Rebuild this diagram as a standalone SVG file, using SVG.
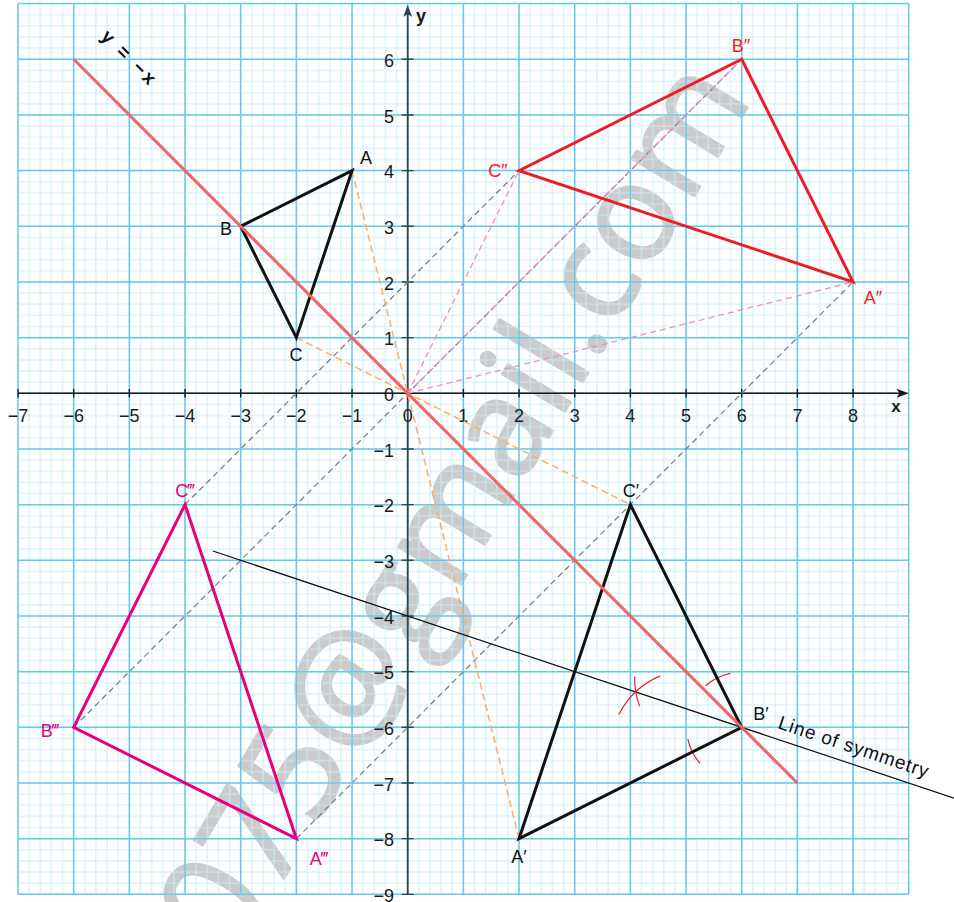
<svg xmlns="http://www.w3.org/2000/svg" width="954" height="902" viewBox="0 0 954 902">
<defs>
<pattern id="minor" x="12.443" y="-1.957" width="11.134" height="11.134" patternUnits="userSpaceOnUse">
<path d="M5.567 0V11.134M0 5.567H11.134" stroke="#c9ecf9" stroke-width="1" fill="none"/>
</pattern>
</defs>
<style>
text{font-family:"Liberation Sans","DejaVu Sans",sans-serif;}
.num{font-size:18px;fill:#1a1a1a}
.xl{text-anchor:middle}
.yl{text-anchor:end}
.lbl{font-size:18px;text-anchor:middle}
.major{stroke:#66c9ee;stroke-width:1.5;fill:none}
.tri{fill:none;stroke-width:3;stroke-linejoin:miter}
.gd{stroke:#808080;stroke-width:1.3;stroke-dasharray:6 4;fill:none}
.od{stroke:#f9b26c;stroke-width:1.6;stroke-dasharray:7 4;fill:none}
.pd{stroke:#f08cc4;stroke-width:1.3;stroke-dasharray:6 4;fill:none}
.arc{stroke:#e8242a;stroke-width:1.2;fill:none}
</style>
<rect x="0" y="0" width="954" height="902" fill="#ffffff"/>
<text id="watermark" transform="translate(234,962) rotate(-59)" font-size="136" fill="#cbcbcb" stroke="#cbcbcb" stroke-width="2.5" stroke-linejoin="round" style="font-family:'Open Sans','Noto Sans',sans-serif;font-weight:400">075@gmail.com</text>
<g id="grid">
<rect x="18.01" y="3.61" width="890.72" height="890.72" fill="url(#minor)"/>
<path class="major" d="M18.01 3.61V894.33M73.68 3.61V894.33M129.35 3.61V894.33M185.02 3.61V894.33M240.69 3.61V894.33M296.36 3.61V894.33M352.03 3.61V894.33M407.7 3.61V894.33M463.37 3.61V894.33M519.04 3.61V894.33M574.71 3.61V894.33M630.38 3.61V894.33M686.05 3.61V894.33M741.72 3.61V894.33M797.39 3.61V894.33M853.06 3.61V894.33M908.73 3.61V894.33M18.01 3.61H908.73M18.01 59.28H908.73M18.01 114.95H908.73M18.01 170.62H908.73M18.01 226.29H908.73M18.01 281.96H908.73M18.01 337.63H908.73M18.01 393.3H908.73M18.01 448.97H908.73M18.01 504.64H908.73M18.01 560.31H908.73M18.01 615.98H908.73M18.01 671.65H908.73M18.01 727.32H908.73M18.01 782.99H908.73M18.01 838.66H908.73M18.01 894.33H908.73"/>
</g>
<g id="axes">
<path d="M18.01 393.3H900" stroke="#1a1a1a" stroke-width="1.6"/>
<path d="M908.7 393.3L896.5 388.8L899.5 393.3L896.5 397.8Z" fill="#1a1a1a"/>
<path d="M407.7 894.33V12" stroke="#2d4550" stroke-width="1.8"/>
<path d="M407.7 5L403.2 17L407.7 14L412.2 17Z" fill="#2d4550"/>
<path d="M18.01 389V397.6M73.68 389V397.6M129.35 389V397.6M185.02 389V397.6M240.69 389V397.6M296.36 389V397.6M352.03 389V397.6M463.37 389V397.6M519.04 389V397.6M574.71 389V397.6M630.38 389V397.6M686.05 389V397.6M741.72 389V397.6M797.39 389V397.6M853.06 389V397.6" stroke="#1a1a1a" stroke-width="1.4"/>
<path d="M401.7 59.28H413.7M401.7 114.95H413.7M401.7 170.62H413.7M401.7 226.29H413.7M401.7 281.96H413.7M401.7 337.63H413.7M401.7 448.97H413.7M401.7 504.64H413.7M401.7 560.31H413.7M401.7 615.98H413.7M401.7 671.65H413.7M401.7 727.32H413.7M401.7 782.99H413.7M401.7 838.66H413.7M401.7 894.33H413.7" stroke="#2d4550" stroke-width="1.4"/>
<text x="896" y="412" font-size="17" font-weight="bold" text-anchor="middle" fill="#1a1a1a">x</text>
<text x="421" y="22" font-size="18" font-weight="bold" text-anchor="middle" fill="#1a1a1a">y</text>
<g class="num xl">
<text x="18.01" y="421.7">−7</text><text x="73.68" y="421.7">−6</text><text x="129.35" y="421.7">−5</text><text x="185.02" y="421.7">−4</text><text x="240.69" y="421.7">−3</text><text x="296.36" y="421.7">−2</text><text x="352.03" y="421.7">−1</text><text x="407.7" y="421.7">0</text><text x="463.37" y="421.7">1</text><text x="519.04" y="421.7">2</text><text x="574.71" y="421.7">3</text><text x="630.38" y="421.7">4</text><text x="686.05" y="421.7">5</text><text x="741.72" y="421.7">6</text><text x="797.39" y="421.7">7</text><text x="853.06" y="421.7">8</text>
</g>
<g class="num yl">
<text x="394" y="66.8">6</text><text x="394" y="122.5">5</text><text x="394" y="178.1">4</text><text x="394" y="233.8">3</text><text x="394" y="289.5">2</text><text x="394" y="345.1">1</text><text x="394" y="400.8">0</text><text x="394" y="456.5">−1</text><text x="394" y="512.1">−2</text><text x="394" y="567.8">−3</text><text x="394" y="623.5">−4</text><text x="394" y="679.2">−5</text><text x="394" y="734.8">−6</text><text x="394" y="790.5">−7</text><text x="394" y="846.2">−8</text><text x="394" y="901.5">−9</text>
</g>
</g>
<g id="connectors">
<path class="gd" d="M185.02 504.64L519.04 170.62M73.68 727.32L741.72 59.28M296.36 838.66L853.06 281.96"/>
<path class="pd" d="M407.7 393.3L853.06 281.96M407.7 393.3L741.72 59.28M407.7 393.3L519.04 170.62"/>
<path class="od" d="M352.03 170.62L519.04 838.66M296.36 337.63L630.38 504.64M240.69 226.29L741.72 727.32"/>
</g>
<g id="symmetry-line">
<path d="M212.85 551.03L954 798.08" stroke="#111" stroke-width="1.2"/>
<text transform="translate(777,728) rotate(18.435)" font-size="19" fill="#111" textLength="157" lengthAdjust="spacing">Line of symmetry</text>
<path class="arc" d="M705.6 685.7A55.1 55.1 0 0 1 730.3 673.4M700.1 763.5A55.1 55.1 0 0 1 687.8 738.8M618.9 714.4A82.5 82.5 0 0 1 660.2 675.9M639.6 706.2A82.5 82.5 0 0 1 634.6 676.6"/>
</g>
<g id="tri-ABC">
<path class="tri" stroke="#111" d="M352.03 170.62L240.69 226.29L296.36 337.63Z"/>
<g class="lbl" fill="#111"><text x="366" y="163.5">A</text><text x="226" y="235">B</text><text x="296" y="360.5">C</text></g>
</g>
<g id="tri-A1B1C1">
<path class="tri" stroke="#111" d="M519.04 838.66L741.72 727.32L630.38 504.64Z"/>
<g class="lbl" fill="#111"><text x="631" y="497">C′</text><text x="761" y="720">B′</text><text x="519" y="863">A′</text></g>
</g>
<g id="tri-A2B2C2">
<path class="tri" stroke="#ee1d23" d="M853.06 281.96L741.72 59.28L519.04 170.62Z"/>
<g class="lbl" fill="#ee1d23"><text x="741" y="52">B″</text><text x="498" y="177">C″</text><text x="873" y="304">A″</text></g>
</g>
<g id="tri-A3B3C3">
<path class="tri" stroke="#e6007e" d="M296.36 838.66L73.68 727.32L185.02 504.64Z"/>
<g class="lbl" fill="#e6007e"><text x="185" y="497">C‴</text><text x="50" y="737">B‴</text><text x="319" y="865">A‴</text></g>
</g>
<g id="line-y-eq-minus-x">
<path d="M73.68 59.28L797.39 782.99" stroke="#f26464" stroke-width="3"/>
<text transform="translate(125.3,62.8) rotate(45)" font-size="19" font-weight="bold" letter-spacing="3" text-anchor="middle" fill="#111">y = −x</text>
</g>
</svg>
